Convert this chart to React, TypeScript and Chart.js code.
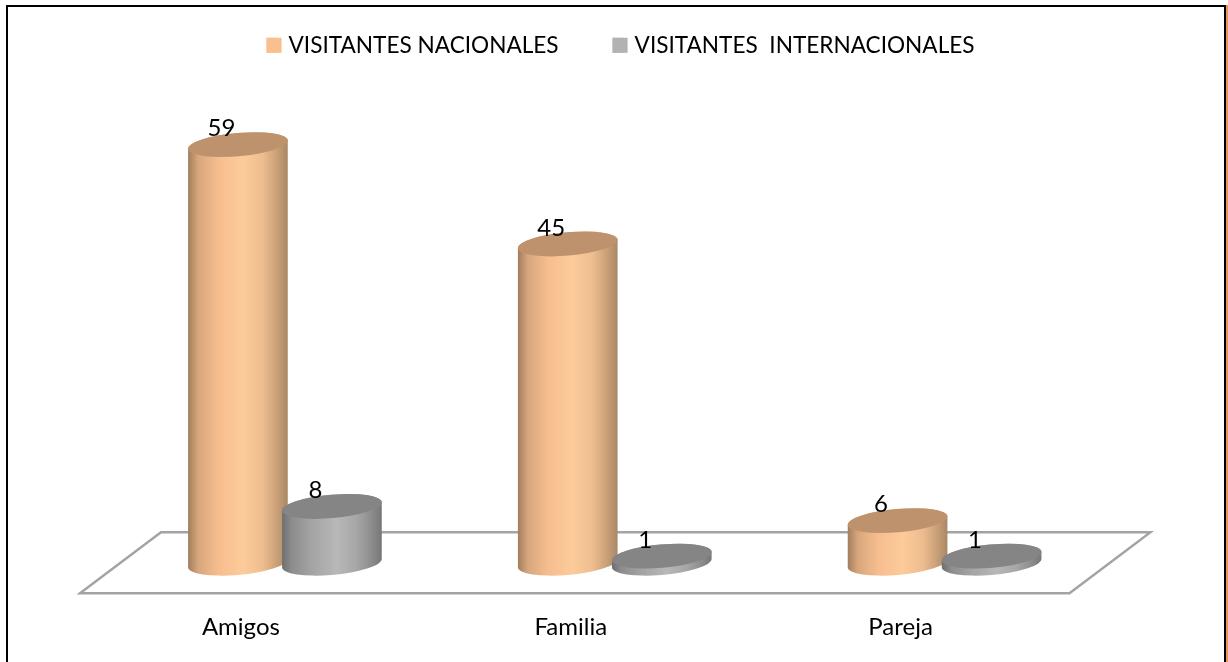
import React, { useEffect, useRef } from "react";
import { Chart, registerables } from "chart.js";

Chart.register(...registerables);

const categories = ["Amigos", "Familia", "Pareja"];
const nacionales = [59, 45, 6];
const internacionales = [8, 1, 1];
const seriesNames = ["VISITANTES NACIONALES", "VISITANTES  INTERNACIONALES"];
const swatchColors = ["#fabf8f", "#b2b2b2"];
const topColors = ["#bd926d", "#858585"];
const bodyStops = [
  ["#a17c5c", "#d6a67c", "#f6bd8e", "#fdcb9a", "#eebd8f", "#c79e76", "#a88764"],
  ["#6e6e6e", "#8d8d8d", "#a4a4a4", "#b8b8b8", "#a6a6a6", "#8c8c8c", "#767676"],
];
const stopAt = [0, 0.1, 0.3, 0.55, 0.75, 0.9, 1];
const FONT = "Lato, 'Open Sans', sans-serif";
const TILT = (-5 * Math.PI) / 180;

function cylinder(ctx: CanvasRenderingContext2D, x: number, top: number, base: number, a: number, b: number, ds: number) {
  const t0 = Math.atan(-(b / a) * Math.tan(TILT));
  const grad = ctx.createLinearGradient(x - a, 0, x + a, 0);
  bodyStops[ds].forEach((c, i) => grad.addColorStop(stopAt[i], c));
  ctx.beginPath();
  ctx.ellipse(x, base, a, b, TILT, t0, t0 + Math.PI, false);
  ctx.ellipse(x, top, a, b, TILT, t0 + Math.PI, t0 + 2 * Math.PI, false);
  ctx.closePath();
  ctx.fillStyle = grad;
  ctx.fill();
  ctx.beginPath();
  ctx.ellipse(x, top, a, b, TILT, 0, Math.PI * 2);
  ctx.fillStyle = topColors[ds];
  ctx.fill();
}

const scenePlugin = {
  id: "scene",
  afterLayout(chart: any) {
    chart.legend.left += 5.8;
    chart.legend.right += 5.8;
  },
  beforeDraw(chart: any) {
    const { ctx, width, height } = chart;
    ctx.save();
    ctx.fillStyle = "#ffffff";
    ctx.fillRect(0, 0, width, height);
    ctx.strokeStyle = "#000000";
    ctx.lineWidth = 2;
    ctx.beginPath();
    ctx.moveTo(7, height);
    ctx.lineTo(7, 6);
    ctx.lineTo(width - 3, 6);
    ctx.lineTo(width - 3, height);
    ctx.stroke();
    ctx.fillStyle = "#e39a5e";
    ctx.fillRect(width - 2, 5, 2, height - 5);
    ctx.restore();
  },
  beforeDatasetsDraw(chart: any) {
    const { ctx, chartArea, scales } = chart;
    const y0 = scales.y.getPixelForValue(0);
    const front = y0 + 30;
    const back = y0 - 31;
    ctx.save();
    ctx.strokeStyle = "#a3a3a3";
    ctx.lineWidth = 2.4;
    ctx.beginPath();
    ctx.moveTo(chartArea.left - 40, front);
    ctx.lineTo(chartArea.left + 41, back);
    ctx.lineTo(chartArea.right + 41, back);
    ctx.lineTo(chartArea.right - 40, front);
    ctx.closePath();
    ctx.stroke();
    ctx.restore();
  },
  beforeDatasetDraw() {
    return false;
  },
  afterDatasetsDraw(chart: any) {
    const { ctx } = chart;
    ctx.save();
    categories.forEach((_, i) => {
      chart.data.datasets.forEach((_d: any, ds: number) => {
        const bar = chart.getDatasetMeta(ds).data[i];
        cylinder(ctx, bar.x, bar.y, bar.base, bar.width * 0.532, 11.7, ds);
      });
    });
    ctx.fillStyle = "#000000";
    ctx.font = `24px ${FONT}`;
    ctx.textAlign = "center";
    ctx.textBaseline = "middle";
    categories.forEach((_, i) => {
      chart.data.datasets.forEach((d: any, ds: number) => {
        const bar = chart.getDatasetMeta(ds).data[i];
        ctx.fillText(String(d.data[i]), bar.x - 16.5, bar.y - 16);
      });
    });
    ctx.restore();
  },
  afterDraw(chart: any) {
    const { ctx, legend } = chart;
    ctx.save();
    legend.legendHitBoxes.forEach((box: any, i: number) => {
      ctx.fillStyle = swatchColors[i];
      ctx.fillRect(box.left, box.top + box.height / 2 - 7.5, 15, 15);
    });
    ctx.restore();
  },
};

export default function App() {
  const ref = useRef<HTMLCanvasElement>(null);
  useEffect(() => {
    document.body.style.margin = "0";
    const chart = new Chart(ref.current!, {
      type: "bar",
      data: {
        labels: categories,
        datasets: [
          { label: seriesNames[0], data: nacionales, backgroundColor: swatchColors[0] },
          { label: seriesNames[1], data: internacionales, backgroundColor: swatchColors[1] },
        ],
      },
      options: {
        responsive: false,
        animation: false,
        layout: { padding: { left: 120, right: 118.5, top: -20, bottom: -22 } },
        datasets: { bar: { categoryPercentage: 0.57, barPercentage: 1 } },
        plugins: {
          tooltip: { enabled: false },
          legend: {
            position: "top",
            labels: {
              boxWidth: 10.7,
              boxHeight: 15,
              padding: 54,
              color: "#000000",
              font: { size: 22.6, family: FONT },
            },
          },
        },
        scales: {
          x: {
            grid: { display: false },
            border: { display: false },
            ticks: { color: "#000000", padding: 42, labelOffset: -44, font: { size: 24, family: FONT } },
          },
          y: { display: false, min: 0, max: 70 },
        },
      } as any,
      plugins: [scenePlugin],
    });
    return () => chart.destroy();
  }, []);
  return <canvas ref={ref} width={1228} height={662} style={{ display: "block" }} />;
}
